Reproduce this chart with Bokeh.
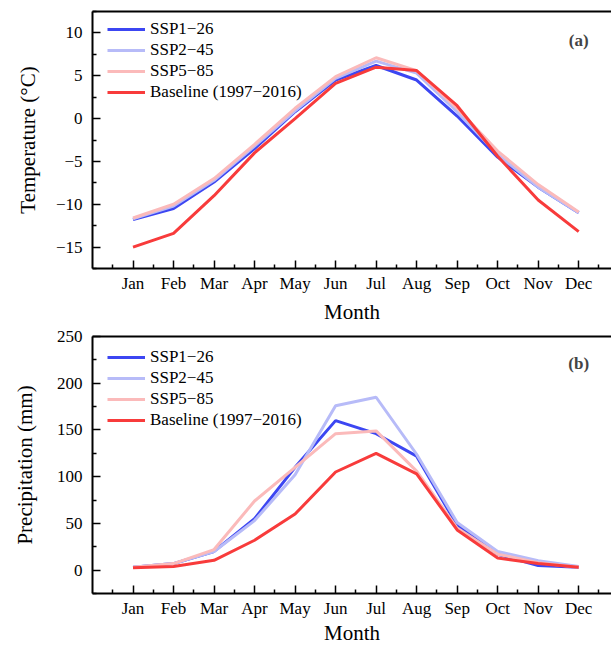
from bokeh.plotting import figure
from bokeh.models import Range1d, FixedTicker, LinearAxis, Legend, LegendItem, Label
from bokeh.layouts import column
from bokeh.embed import file_html
from bokeh.resources import INLINE

# ---------------- data ----------------
months = ["Jan", "Feb", "Mar", "Apr", "May", "Jun", "Jul", "Aug", "Sep", "Oct", "Nov", "Dec"]
month_num = [1, 2, 3, 4, 5, 6, 7, 8, 9, 10, 11, 12]

series_names = ["SSP1\u221226", "SSP2\u221245", "SSP5\u221285", "Baseline (1997\u22122016)"]
series_colors = ["#3c46f2", "#b7bbf8", "#fbbaba", "#f83b3b"]

temp_ssp126 = [-11.8, -10.5, -7.4, -3.5, 0.8, 4.5, 6.2, 4.5, 0.3, -4.5, -8.0, -11.0]
temp_ssp245 = [-11.7, -10.2, -7.2, -3.2, 0.9, 4.7, 6.7, 5.3, 0.8, -4.2, -8.0, -11.0]
temp_ssp585 = [-11.6, -10.0, -7.0, -3.0, 1.2, 4.9, 7.1, 5.6, 1.2, -3.8, -7.7, -10.9]
temp_base = [-15.0, -13.4, -9.0, -4.0, 0.0, 4.1, 6.0, 5.6, 1.5, -4.4, -9.5, -13.2]

prec_ssp126 = [3, 7, 20, 55, 110, 160, 146, 122, 48, 17, 5, 3]
prec_ssp245 = [3, 7, 20, 53, 102, 176, 185, 124, 51, 20, 10, 4]
prec_ssp585 = [3, 7, 22, 74, 110, 146, 149, 106, 45, 17, 8, 3]
prec_base = [2.5, 4, 10.5, 32, 60, 105, 125, 103, 43, 13, 7, 3]

temp_ticks = [-15, -10, -5, 0, 5, 10]
temp_minor = [-17.5, -12.5, -7.5, -2.5, 2.5, 7.5, 12.5]
prec_ticks = [0, 50, 100, 150, 200, 250]
prec_minor = [-25, 25, 75, 125, 175, 225]
x_minor = [0.5, 1.5, 2.5, 3.5, 4.5, 5.5, 6.5, 7.5, 8.5, 9.5, 10.5, 11.5, 12.5]

FONT = "Liberation Serif"


def style_axis(ax):
    ax.axis_line_width = 2
    ax.axis_line_color = "black"
    ax.major_tick_line_width = 1.5
    ax.minor_tick_line_width = 1.5
    ax.major_tick_in = 8
    ax.major_tick_out = 0
    ax.minor_tick_in = 4
    ax.minor_tick_out = 0
    ax.major_label_text_font = FONT
    ax.major_label_text_font_size = "17px"
    ax.major_label_text_color = "black"
    ax.axis_label_text_font = FONT
    ax.axis_label_text_font_size = "21px"
    ax.axis_label_text_font_style = "normal"
    ax.axis_label_text_color = "black"


def make_panel(series, ylabel, yr, yticks, yminor, height, btop, bbottom,
               legend_loc, letter, letter_y, ylabel_standoff, xlabel_standoff):
    p = figure(width=611, height=height, output_backend="svg", toolbar_location=None,
               x_range=Range1d(0, 12.81), y_range=Range1d(*yr),
               min_border_left=92, min_border_right=0,
               min_border_top=btop, min_border_bottom=bbottom)
    p.outline_line_color = None
    p.grid.visible = False
    p.background_fill_color = "white"
    p.border_fill_color = "white"

    p.xaxis.ticker = FixedTicker(ticks=month_num, minor_ticks=x_minor)
    p.xaxis.major_label_overrides = {m: s for m, s in zip(month_num, months)}
    p.xaxis.axis_label = "Month"
    p.xaxis.major_label_standoff = 5
    p.xaxis.axis_label_standoff = xlabel_standoff
    p.yaxis.ticker = FixedTicker(ticks=yticks, minor_ticks=yminor)
    p.yaxis.axis_label = ylabel
    p.yaxis.major_label_standoff = 10
    p.yaxis.axis_label_standoff = ylabel_standoff
    style_axis(p.xaxis[0])
    style_axis(p.yaxis[0])

    top = LinearAxis(ticker=FixedTicker(ticks=[]), major_label_text_font_size="0px",
                     axis_line_width=2, major_tick_line_color=None, minor_tick_line_color=None)
    p.add_layout(top, "above")

    items = []
    for vals, name, col in zip(series, series_names, series_colors):
        r = p.line(month_num, vals, line_color=col, line_width=3)
        items.append(LegendItem(label=name, renderers=[r]))

    leg = Legend(items=items, location=legend_loc)
    leg.padding = 0
    leg.margin = 0
    leg.spacing = 1
    leg.glyph_width = 38
    leg.glyph_height = 20
    leg.label_height = 20
    leg.label_standoff = 5
    leg.label_text_font = FONT
    leg.label_text_font_size = "17px"
    leg.label_text_color = "black"
    leg.border_line_color = None
    leg.background_fill_alpha = 0
    p.add_layout(leg)

    p.add_layout(Label(x=12, y=letter_y, text=letter, text_font=FONT, text_font_size="17px",
                       text_font_style="bold", text_align="center", text_baseline="middle"))
    return p


p1 = make_panel([temp_ssp126, temp_ssp245, temp_ssp585, temp_base], "Temperature (\u00b0C)",
                (-17.5, 12.5), temp_ticks, temp_minor, 326, 11, 58, (15, 166), "(a)", 9.1, 13, 4)
p2 = make_panel([prec_ssp126, prec_ssp245, prec_ssp585, prec_base], "Precipitation (mm)",
                (-25, 250), prec_ticks, prec_minor, 323, 10, 56, (15, 163), "(b)", 221, 17, 0)

layout = column(p1, p2, spacing=0)
open("out.html", "w").write(file_html(layout, INLINE))
